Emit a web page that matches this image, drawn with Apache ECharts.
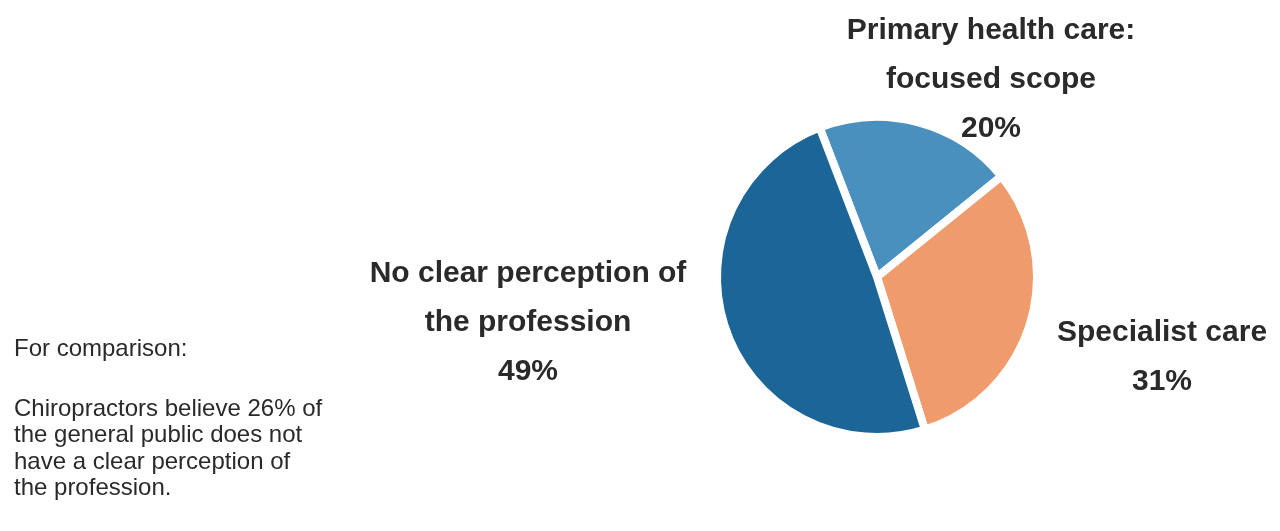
<!DOCTYPE html>
<html>
<head>
<meta charset="utf-8">
<title>Perception of the profession</title>
<script src="https://cdn.jsdelivr.net/npm/echarts@6/dist/echarts.min.js"></script>
<style>
  html, body { margin: 0; padding: 0; background: #ffffff; }
  #chart { width: 1280px; height: 531px; }
</style>
</head>
<body>
<div id="chart"></div>
<script>
// Survey answers: how the general public perceives the profession
const categories = [
  'Primary health care:\nfocused scope',
  'Specialist care',
  'No clear perception of\nthe profession'
];
const shares = [20, 31, 49];
const sliceColors = ['#4a90bf', '#f09b6c', '#1c6697'];

// Side note shown at the lower left
const noteTitle = 'For comparison:';
const noteLines = [
  'Chiropractors believe 26% of',
  'the general public does not',
  'have a clear perception of',
  'the profession.'
];

// Where each slice's label block is centred
const labelAnchors = [[991, 80], [1162, 357], [528, 323]];

const textFont = '"Liberation Sans", Arial, sans-serif';

const chart = echarts.init(document.getElementById('chart'), null, { renderer: 'canvas' });

chart.setOption({
  backgroundColor: '#ffffff',
  animation: false,
  series: [{
    type: 'pie',
    center: [877, 277],
    radius: 160,
    startAngle: 111,
    clockwise: true,
    avoidLabelOverlap: false,
    data: categories.map((name, i) => ({
      name: name,
      value: shares[i],
      itemStyle: { color: sliceColors[i] }
    })),
    itemStyle: { borderColor: '#ffffff', borderWidth: 8 },
    label: {
      show: true,
      position: 'outside',
      formatter: p => p.name + '\n' + p.value + '%',
      fontFamily: textFont,
      fontWeight: 'bold',
      fontSize: 30,
      lineHeight: 49,
      color: '#2a2a2a',
      align: 'center'
    },
    labelLine: { show: false },
    labelLayout: p => ({
      x: labelAnchors[p.dataIndex][0],
      y: labelAnchors[p.dataIndex][1],
      align: 'center',
      verticalAlign: 'middle'
    }),
    emphasis: { disabled: true }
  }],
  graphic: [
    {
      type: 'text',
      left: 14,
      top: 337,
      style: {
        text: noteTitle,
        font: '24px ' + textFont,
        fill: '#2a2a2a'
      }
    },
    {
      type: 'text',
      left: 14,
      top: 396,
      style: {
        text: noteLines.join('\n'),
        font: '24px ' + textFont,
        lineHeight: 26.5,
        fill: '#2a2a2a'
      }
    }
  ]
});
</script>
</body>
</html>
